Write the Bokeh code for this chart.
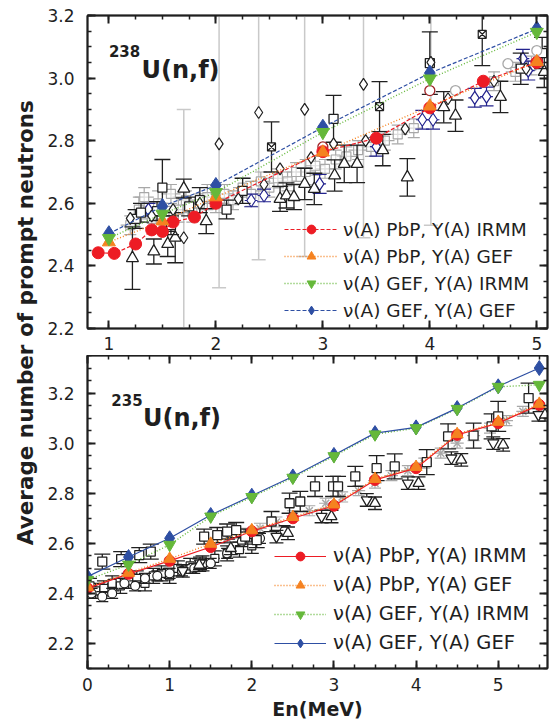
import numpy as np
from bokeh.plotting import figure
from bokeh.layouts import row, column
from bokeh.models import (Range1d, LinearAxis, FixedTicker, PrintfTickFormatter,
                          Label, Legend, LegendItem, CustomLabelingPolicy)
from bokeh.embed import file_html
from bokeh.resources import INLINE

# ------------------------------------------------------------------
# 238U(n,f) : model results
u238_pbp_irmm_x = [0.90, 1.05, 1.25, 1.40, 1.50, 1.60, 1.80, 2.00, 3.00, 3.50, 4.00, 4.50, 5.00]
u238_pbp_irmm_y = [2.442, 2.440, 2.470, 2.515, 2.510, 2.540, 2.556, 2.600, 2.765, 2.808, 2.905, 2.990, 3.050]
u238_gef_x = [1.0, 1.5, 2.0, 3.0, 4.0, 5.0]
u238_pbp_gef_y = [2.476, 2.543, 2.620, 2.763, 2.910, 3.052]
u238_gef_irmm_y = [2.488, 2.566, 2.635, 2.827, 2.998, 3.147]
u238_gef_gef_y = [2.503, 2.590, 2.657, 2.843, 3.016, 3.157]

# 238U(n,f) : experimental data
u238_gsq_x = [1.20, 1.28, 1.33, 1.40, 1.46, 1.52, 1.58, 1.65, 1.72, 1.78, 1.85, 1.92, 2.00, 2.08, 2.16,
              2.25, 2.33, 2.42, 2.50, 2.58, 2.67, 2.75, 2.84, 2.93, 3.02, 3.12, 3.22, 3.33, 3.45, 3.58,
              3.70, 3.85, 4.60, 4.80, 4.95]
u238_gsq_y = [2.53, 2.58, 2.62, 2.55, 2.60, 2.56, 2.63, 2.58, 2.61, 2.57, 2.60, 2.62, 2.60, 2.63, 2.61,
              2.65, 2.63, 2.67, 2.65, 2.68, 2.67, 2.70, 2.70, 2.72, 2.71, 2.74, 2.75, 2.77, 2.78, 2.80,
              2.82, 2.84, 2.99, 3.02, 3.04]
u238_gsq_ey = [0.03, 0.04, 0.03, 0.03, 0.04, 0.03, 0.03, 0.04, 0.03, 0.03, 0.03, 0.04, 0.03, 0.03, 0.03,
               0.03, 0.04, 0.03, 0.03, 0.03, 0.03, 0.03, 0.04, 0.03, 0.03, 0.03, 0.03, 0.03, 0.03, 0.03,
               0.03, 0.03, 0.03, 0.03, 0.03]

u238_tri_x = [1.22, 1.42, 1.55, 1.62, 1.70, 1.91, 2.60, 2.66, 2.73, 2.83, 2.92, 3.11, 3.20, 3.32, 3.56,
              3.79, 4.13, 4.24, 4.66, 5.07]
u238_tri_y = [2.425, 2.446, 2.470, 2.490, 2.647, 2.543, 2.614, 2.625, 2.620, 2.662, 2.646, 2.689, 2.726,
              2.726, 2.770, 2.683, 2.907, 2.880, 2.940, 3.020]
u238_tri_ey = [0.10, 0.04, 0.04, 0.08, 0.03, 0.04, 0.04, 0.04, 0.04, 0.05, 0.05, 0.05, 0.06, 0.06, 0.05,
               0.06, 0.05, 0.05, 0.05, 0.05]

u238_wide_x = [1.70, 2.03, 2.40, 2.83, 3.38, 4.01]
u238_wide_y = [2.49, 2.79, 2.89, 2.90, 2.98, 3.05]
u238_wide_ey = [0.41, 0.46, 0.47, 0.47, 0.49, 0.52]

u238_dia_x = [1.20, 1.40, 1.60, 1.85, 2.21, 2.45, 2.60, 2.89, 3.10, 3.40, 3.77, 4.17, 4.60, 4.90]
u238_dia_y = [2.552, 2.560, 2.580, 2.600, 2.614, 2.660, 2.710, 2.746, 2.790, 2.800, 2.838, 2.934, 2.990, 3.030]

u238_nav_x = [1.37, 2.33, 2.45, 2.97, 3.50, 3.93, 4.03, 4.42, 4.53, 4.87, 4.92]
u238_nav_y = [2.580, 2.609, 2.625, 2.662, 2.781, 2.867, 2.867, 2.937, 2.941, 3.062, 3.024]
u238_nav_ey = [0.02, 0.02, 0.02, 0.03, 0.03, 0.03, 0.03, 0.03, 0.03, 0.03, 0.03]

u238_sq_x = [1.25, 1.30, 1.45, 1.50, 1.58, 1.75, 1.85, 2.10, 2.25, 3.10, 4.00, 4.85, 5.05]
u238_sq_y = [2.550, 2.570, 2.575, 2.650, 2.530, 2.590, 2.610, 2.580, 2.640, 2.870, 3.048, 3.030, 3.080]
u238_sq_ey = [0.03, 0.03, 0.03, 0.09, 0.03, 0.03, 0.04, 0.03, 0.04, 0.075, 0.10, 0.05, 0.05]

u238_xsq_x = [2.52, 3.53, 4.49]
u238_xsq_y = [2.780, 2.909, 3.140]
u238_xsq_ey = [0.08, 0.08, 0.10]

u238_rc_x = [3.00, 4.00]
u238_rc_y = [2.780, 2.960]

u238_gc_x = [4.24, 4.73, 5.00]
u238_gc_y = [2.960, 3.046, 3.088]

# ------------------------------------------------------------------
# 235U(n,f) : model results
u235_x = [0.0, 0.5, 1.0, 1.5, 2.0, 2.5, 3.0, 3.5, 4.0, 4.5, 5.0, 5.5]
u235_pbp_irmm_y = [2.420, 2.478, 2.530, 2.585, 2.648, 2.700, 2.750, 2.853, 2.900, 3.033, 3.080, 3.153]
u235_pbp_gef_y = [2.425, 2.482, 2.538, 2.598, 2.652, 2.705, 2.755, 2.857, 2.905, 3.036, 3.085, 3.157]
u235_gef_irmm_y = [2.454, 2.515, 2.594, 2.707, 2.785, 2.862, 2.948, 3.035, 3.060, 3.137, 3.225, 3.233]
u235_gef_gef_y = [2.467, 2.545, 2.620, 2.713, 2.790, 2.867, 2.953, 3.040, 3.063, 3.140, 3.227, 3.300]

# 235U(n,f) : experimental data
u235_sq_x = [0.18, 0.41, 0.63, 0.77, 1.42, 1.58, 1.70, 1.81, 1.92, 2.06, 2.24, 2.46, 2.59, 2.77, 2.99,
             3.05, 3.26, 3.52, 3.74, 4.13, 4.39, 4.70, 4.92, 5.00, 5.37]
u235_sq_y = [2.527, 2.537, 2.553, 2.567, 2.627, 2.633, 2.647, 2.653, 2.627, 2.613, 2.687, 2.760, 2.767,
             2.827, 2.827, 2.827, 2.867, 2.900, 2.907, 2.924, 3.027, 3.030, 3.067, 3.107, 3.180]
u235_sq_ey = [0.03, 0.03, 0.03, 0.03, 0.03, 0.03, 0.03, 0.03, 0.03, 0.03, 0.04, 0.04, 0.04, 0.04, 0.04,
              0.04, 0.04, 0.05, 0.05, 0.05, 0.05, 0.05, 0.05, 0.06, 0.06]

u235_dsq_x = [0.03, 0.10, 0.20, 0.30, 0.40, 0.50, 0.60, 0.70, 0.80, 0.90, 1.00, 1.10, 1.25, 1.40, 1.55,
              1.70, 1.85, 2.00]
u235_dsq_y = [2.43, 2.41, 2.42, 2.44, 2.43, 2.45, 2.46, 2.44, 2.47, 2.48, 2.47, 2.50, 2.51, 2.52, 2.54,
              2.56, 2.575, 2.59]

u235_circ_x = [0.05, 0.18, 0.30, 0.45, 0.58, 0.70, 0.85, 1.00, 1.15, 1.30, 1.50, 1.70, 1.88, 2.10, 2.40]
u235_circ_y = [2.400, 2.387, 2.400, 2.440, 2.430, 2.460, 2.470, 2.480, 2.490, 2.500, 2.520, 2.560,
               2.607, 2.620, 2.650]

u235_tdn_x = [1.16, 1.37, 2.30, 2.85, 3.40, 3.90, 4.43, 4.94, 5.49]
u235_tdn_y = [2.490, 2.520, 2.627, 2.707, 2.773, 2.840, 2.940, 3.000, 3.113]
u235_tup_x = [1.36, 1.745, 2.44, 2.97, 3.50, 4.03, 4.55, 5.06, 5.57]
u235_tup_y = [2.513, 2.580, 2.640, 2.707, 2.760, 2.840, 2.933, 2.993, 3.113]

u235_gx_x = [1.50, 1.70, 1.90, 2.10, 2.30, 2.50, 2.70, 2.90, 3.10, 3.30, 3.50, 3.70, 3.90, 4.10,
             4.30, 4.50, 4.70, 4.90, 5.10, 5.30, 5.50]
u235_gx_y = [2.600, 2.620, 2.640, 2.660, 2.685, 2.710, 2.730, 2.760, 2.785, 2.810, 2.840, 2.870,
             2.890, 2.920, 2.960, 3.000, 3.030, 3.060, 3.090, 3.127, 3.140]

# ------------------------------------------------------------------
TXT = "#1f1f1f"
FONT = "DejaVu Sans"
RED, ORANGE, GREEN, BLUE = "#ed1c24", "#f58220", "#65b83a", "#2e4fa3"
GRAY = "#a8a8a8"
NAVY = "#23238e"


def errbars(p, x, y, e, color, lw=1.2, cap=14, ex=None):
    x = np.asarray(x, float); y = np.asarray(y, float); e = np.asarray(e, float)
    p.segment(x0=x, y0=y - e, x1=x, y1=y + e, line_color=color, line_width=lw)
    p.scatter(x=np.concatenate([x, x]), y=np.concatenate([y - e, y + e]), marker="dash",
              size=cap, line_color=color, line_width=lw)
    if ex is not None:
        p.segment(x0=x - ex, y0=y, x1=x + ex, y1=y, line_color=color, line_width=lw)


def style_axis(ax, ticker, fmt, show=True, standoff=6):
    ax.ticker = ticker
    ax.formatter = fmt
    ax.axis_line_width = 2
    ax.axis_line_color = TXT
    ax.major_tick_line_color = TXT
    ax.minor_tick_line_color = TXT
    ax.major_tick_in = 8
    ax.major_tick_out = 0
    ax.minor_tick_in = 4
    ax.minor_tick_out = 0
    ax.major_tick_line_width = 2
    ax.minor_tick_line_width = 1.5
    ax.major_label_text_font = FONT
    ax.major_label_text_color = TXT
    if show:
        ax.major_label_text_font_size = "17px"
        ax.major_label_standoff = standoff
    else:
        ax.major_label_text_font_size = "0px"
        ax.major_label_standoff = 0
        ax.major_label_policy = CustomLabelingPolicy(code="return new Set()")


def make_fig(xr, yr, xt, yt, h, top_border, bottom_border, xstand):
    p = figure(width=506, height=h, x_range=xr, y_range=yr,
               output_backend="svg", toolbar_location=None,
               min_border_left=42, min_border_right=3,
               min_border_top=top_border, min_border_bottom=bottom_border)
    p.grid.visible = False
    p.outline_line_color = TXT
    p.outline_line_width = 1.5
    bottom = p.below[0]
    left = p.left[0]
    style_axis(bottom, xt, PrintfTickFormatter(format="%d"), True, xstand)
    style_axis(left, yt, PrintfTickFormatter(format="%.1f"), True, 13)
    top = LinearAxis()
    style_axis(top, xt, PrintfTickFormatter(format="%d"), False)
    right = LinearAxis()
    style_axis(right, yt, PrintfTickFormatter(format="%.1f"), False)
    p.add_layout(top, "above")
    p.add_layout(right, "right")
    return p, bottom


ymaj = [2.2, 2.4, 2.6, 2.8, 3.0, 3.2]
# ---------------- top panel: 238U ----------------
xt1 = FixedTicker(ticks=[1, 2, 3, 4, 5], minor_ticks=list(np.round(np.arange(0.75, 5.11, 0.25), 2)))
yt1 = FixedTicker(ticks=ymaj, minor_ticks=list(np.round(np.arange(2.2, 3.21, 0.05), 2)))
p1, xa1 = make_fig(Range1d(0.8, 5.1), Range1d(2.2, 3.2), xt1, yt1, 355, 15, 27, 8)

errbars(p1, u238_wide_x, u238_wide_y, u238_wide_ey, "#c9c9c9", lw=1.5, cap=14)
errbars(p1, u238_gsq_x, u238_gsq_y, u238_gsq_ey, GRAY, lw=1.2, cap=12, ex=0.09)
p1.scatter(u238_gsq_x, u238_gsq_y, marker="square", size=9, line_color=GRAY, fill_color="white",
           fill_alpha=0.6, line_width=1.2)
errbars(p1, u238_nav_x, u238_nav_y, u238_nav_ey, NAVY, lw=1.2, cap=14, ex=0.06)
p1.scatter(u238_nav_x, u238_nav_y, marker="diamond", size=13, line_color=NAVY, fill_color="white",
           line_width=1.2)
errbars(p1, u238_tri_x, u238_tri_y, u238_tri_ey, "#202020", lw=1.3, cap=16)
p1.scatter(u238_tri_x, u238_tri_y, marker="triangle", size=12, line_color="#202020",
           fill_color="white", line_width=1.3)
errbars(p1, u238_sq_x, u238_sq_y, u238_sq_ey, "#202020", lw=1.3, cap=16)
p1.scatter(u238_sq_x, u238_sq_y, marker="square", size=9, line_color="#202020", fill_color="white",
           line_width=1.3)
errbars(p1, u238_xsq_x, u238_xsq_y, u238_xsq_ey, "#202020", lw=1.3, cap=16)
p1.scatter(u238_xsq_x, u238_xsq_y, marker="square_x", size=8, line_color="#202020",
           fill_color="white", line_width=1.2)
p1.scatter(u238_dia_x, u238_dia_y, marker="diamond", size=12, line_color="#202020", fill_color="white",
           line_width=1.2)
p1.scatter(u238_wide_x, u238_wide_y, marker="diamond", size=12, line_color="#202020",
           fill_color="white", line_width=1.2)
p1.scatter(u238_rc_x, u238_rc_y, marker="circle", size=10, line_color="#a0262a", fill_color="white",
           line_width=1.3)
p1.scatter(u238_gc_x, u238_gc_y, marker="circle", size=10, line_color=GRAY, fill_color="white",
           line_width=1.3)

l1r = p1.line(u238_pbp_irmm_x, u238_pbp_irmm_y, line_color=RED, line_dash="4 2", line_width=1.2)
l1o = p1.line(u238_gef_x, u238_pbp_gef_y, line_color=ORANGE, line_dash="1 2", line_width=1.4)
l1g = p1.line(u238_gef_x, u238_gef_irmm_y, line_color=GREEN, line_dash="1 2", line_width=1.4)
l1b = p1.line(u238_gef_x, u238_gef_gef_y, line_color=BLUE, line_dash="4 2", line_width=1.2)
s1r = p1.scatter(u238_pbp_irmm_x, u238_pbp_irmm_y, marker="circle", size=12, color=RED)
s1o = p1.scatter(u238_gef_x, u238_pbp_gef_y, marker="triangle", size=13, color=ORANGE)
s1b = p1.scatter(u238_gef_x, u238_gef_gef_y, marker="diamond", size=16, color=BLUE)
s1g = p1.scatter(u238_gef_x, u238_gef_irmm_y, marker="inverted_triangle", size=13, color=GREEN)

lab_a = ["\u03bd(A) PbP, Y(A) IRMM", "\u03bd(A) PbP, Y(A) GEF",
         "\u03bd(A) GEF, Y(A) IRMM", "\u03bd(A) GEF, Y(A) GEF"]
leg1 = Legend(items=[LegendItem(label=lab_a[0], renderers=[l1r, s1r]),
                     LegendItem(label=lab_a[1], renderers=[l1o, s1o]),
                     LegendItem(label=lab_a[2], renderers=[l1g, s1g]),
                     LegendItem(label=lab_a[3], renderers=[l1b, s1b])],
              location=(197, 7), glyph_width=54, glyph_height=22, label_height=22, spacing=5,
              padding=0, margin=0, border_line_color=None, background_fill_alpha=0,
              label_standoff=5, label_text_font=FONT, label_text_font_size="18.5px",
              label_text_color=TXT)
p1.add_layout(leg1, "center")

p1.add_layout(Label(x=1.0, y=3.087, text="238", text_font=FONT, text_font_style="bold",
                    text_font_size="15px", text_color=TXT, text_baseline="alphabetic"))
p1.add_layout(Label(x=1.305, y=3.026, text="U(n,f)", text_font=FONT, text_font_style="bold",
                    text_font_size="24px", text_color=TXT, text_baseline="alphabetic"))

# ---------------- bottom panel: 235U ----------------
xt2 = FixedTicker(ticks=[0, 1, 2, 3, 4, 5], minor_ticks=list(np.round(np.arange(0, 5.61, 0.25), 2)))
yt2 = FixedTicker(ticks=ymaj, minor_ticks=list(np.round(np.arange(2.1, 3.36, 0.05), 2)))
p2, xa2 = make_fig(Range1d(0, 5.6), Range1d(2.1, 3.35), xt2, yt2, 369, 0, 56, 9)
xa2.axis_label = "En(MeV)"
xa2.axis_label_text_font = FONT
xa2.axis_label_text_font_style = "bold"
xa2.axis_label_text_font_size = "19px"
xa2.axis_label_text_color = TXT
xa2.axis_label_standoff = 4

errbars(p2, u235_gx_x, u235_gx_y, [0.02] * len(u235_gx_x), GRAY, lw=1.2, cap=12, ex=0.08)
p2.scatter(u235_gx_x, u235_gx_y, marker="x", size=10, line_color=GRAY, line_width=1.5)
errbars(p2, u235_dsq_x, u235_dsq_y, [0.03] * len(u235_dsq_x), "#202020", lw=1.3, cap=14, ex=0.06)
p2.scatter(u235_dsq_x, u235_dsq_y, marker="square", size=8, line_color="#202020", fill_color="white",
           line_width=1.2)
errbars(p2, u235_circ_x, u235_circ_y, [0.02] * len(u235_circ_x), "#202020", lw=1.3, cap=12, ex=0.05)
p2.scatter(u235_circ_x, u235_circ_y, marker="circle", size=9, line_color="#202020", fill_color="white",
           line_width=1.2)
errbars(p2, u235_sq_x, u235_sq_y, u235_sq_ey, "#202020", lw=1.3, cap=16)
p2.scatter(u235_sq_x, u235_sq_y, marker="square", size=9, line_color="#202020", fill_color="white",
           line_width=1.3)
errbars(p2, u235_tdn_x, u235_tdn_y, [0.025] * len(u235_tdn_x), "#202020", lw=1.3, cap=14)
p2.scatter(u235_tdn_x, u235_tdn_y, marker="inverted_triangle", size=11, line_color="#202020",
           fill_color="white", line_width=1.3)
errbars(p2, u235_tup_x, u235_tup_y, [0.025] * len(u235_tup_x), "#202020", lw=1.3, cap=14)
p2.scatter(u235_tup_x, u235_tup_y, marker="triangle", size=11, line_color="#202020",
           fill_color="white", line_width=1.3)

l2r = p2.line(u235_x, u235_pbp_irmm_y, line_color=RED, line_width=1.2)
l2o = p2.line(u235_x, u235_pbp_gef_y, line_color=ORANGE, line_dash="1 2", line_width=1.4)
l2g = p2.line(u235_x, u235_gef_irmm_y, line_color=GREEN, line_dash="1 2", line_width=1.4)
l2b = p2.line(u235_x, u235_gef_gef_y, line_color=BLUE, line_width=1.2)
s2r = p2.scatter(u235_x, u235_pbp_irmm_y, marker="circle", size=11, color=RED)
s2o = p2.scatter(u235_x, u235_pbp_gef_y, marker="triangle", size=12, color=ORANGE)
s2b = p2.scatter(u235_x, u235_gef_gef_y, marker="diamond", size=15, color=BLUE)
s2g = p2.scatter(u235_x, u235_gef_irmm_y, marker="inverted_triangle", size=12, color=GREEN)

leg2 = Legend(items=[LegendItem(label=lab_a[0], renderers=[l2r, s2r]),
                     LegendItem(label=lab_a[1], renderers=[l2o, s2o]),
                     LegendItem(label=lab_a[2], renderers=[l2g, s2g]),
                     LegendItem(label=lab_a[3], renderers=[l2b, s2b])],
              location=(187, 14), glyph_width=52, glyph_height=22, label_height=22, spacing=6,
              padding=0, margin=0, border_line_color=None, background_fill_alpha=0,
              label_standoff=7, label_text_font=FONT, label_text_font_size="19.5px",
              label_text_color=TXT)
p2.add_layout(leg2, "center")

p2.add_layout(Label(x=0.29, y=3.171, text="235", text_font=FONT, text_font_style="bold",
                    text_font_size="15px", text_color=TXT, text_baseline="alphabetic"))
p2.add_layout(Label(x=0.675, y=3.099, text="U(n,f)", text_font=FONT, text_font_style="bold",
                    text_font_size="24px", text_color=TXT, text_baseline="alphabetic"))

# ---------------- shared y label ----------------
pl = figure(width=44, height=724, x_range=Range1d(0, 1), y_range=Range1d(0, 1),
            output_backend="svg", toolbar_location=None, x_axis_location=None,
            y_axis_location=None, min_border=0)
pl.grid.visible = False
pl.outline_line_color = None
pl.add_layout(Label(x=0.57, y=0.555, text="Average number of prompt neutrons", angle=np.pi / 2,
                    text_align="center", text_baseline="middle", text_font=FONT,
                    text_font_style="bold", text_font_size="21.5px", text_color=TXT))

layout = row(pl, column(p1, p2))
open("out.html", "w").write(file_html(layout, INLINE))
